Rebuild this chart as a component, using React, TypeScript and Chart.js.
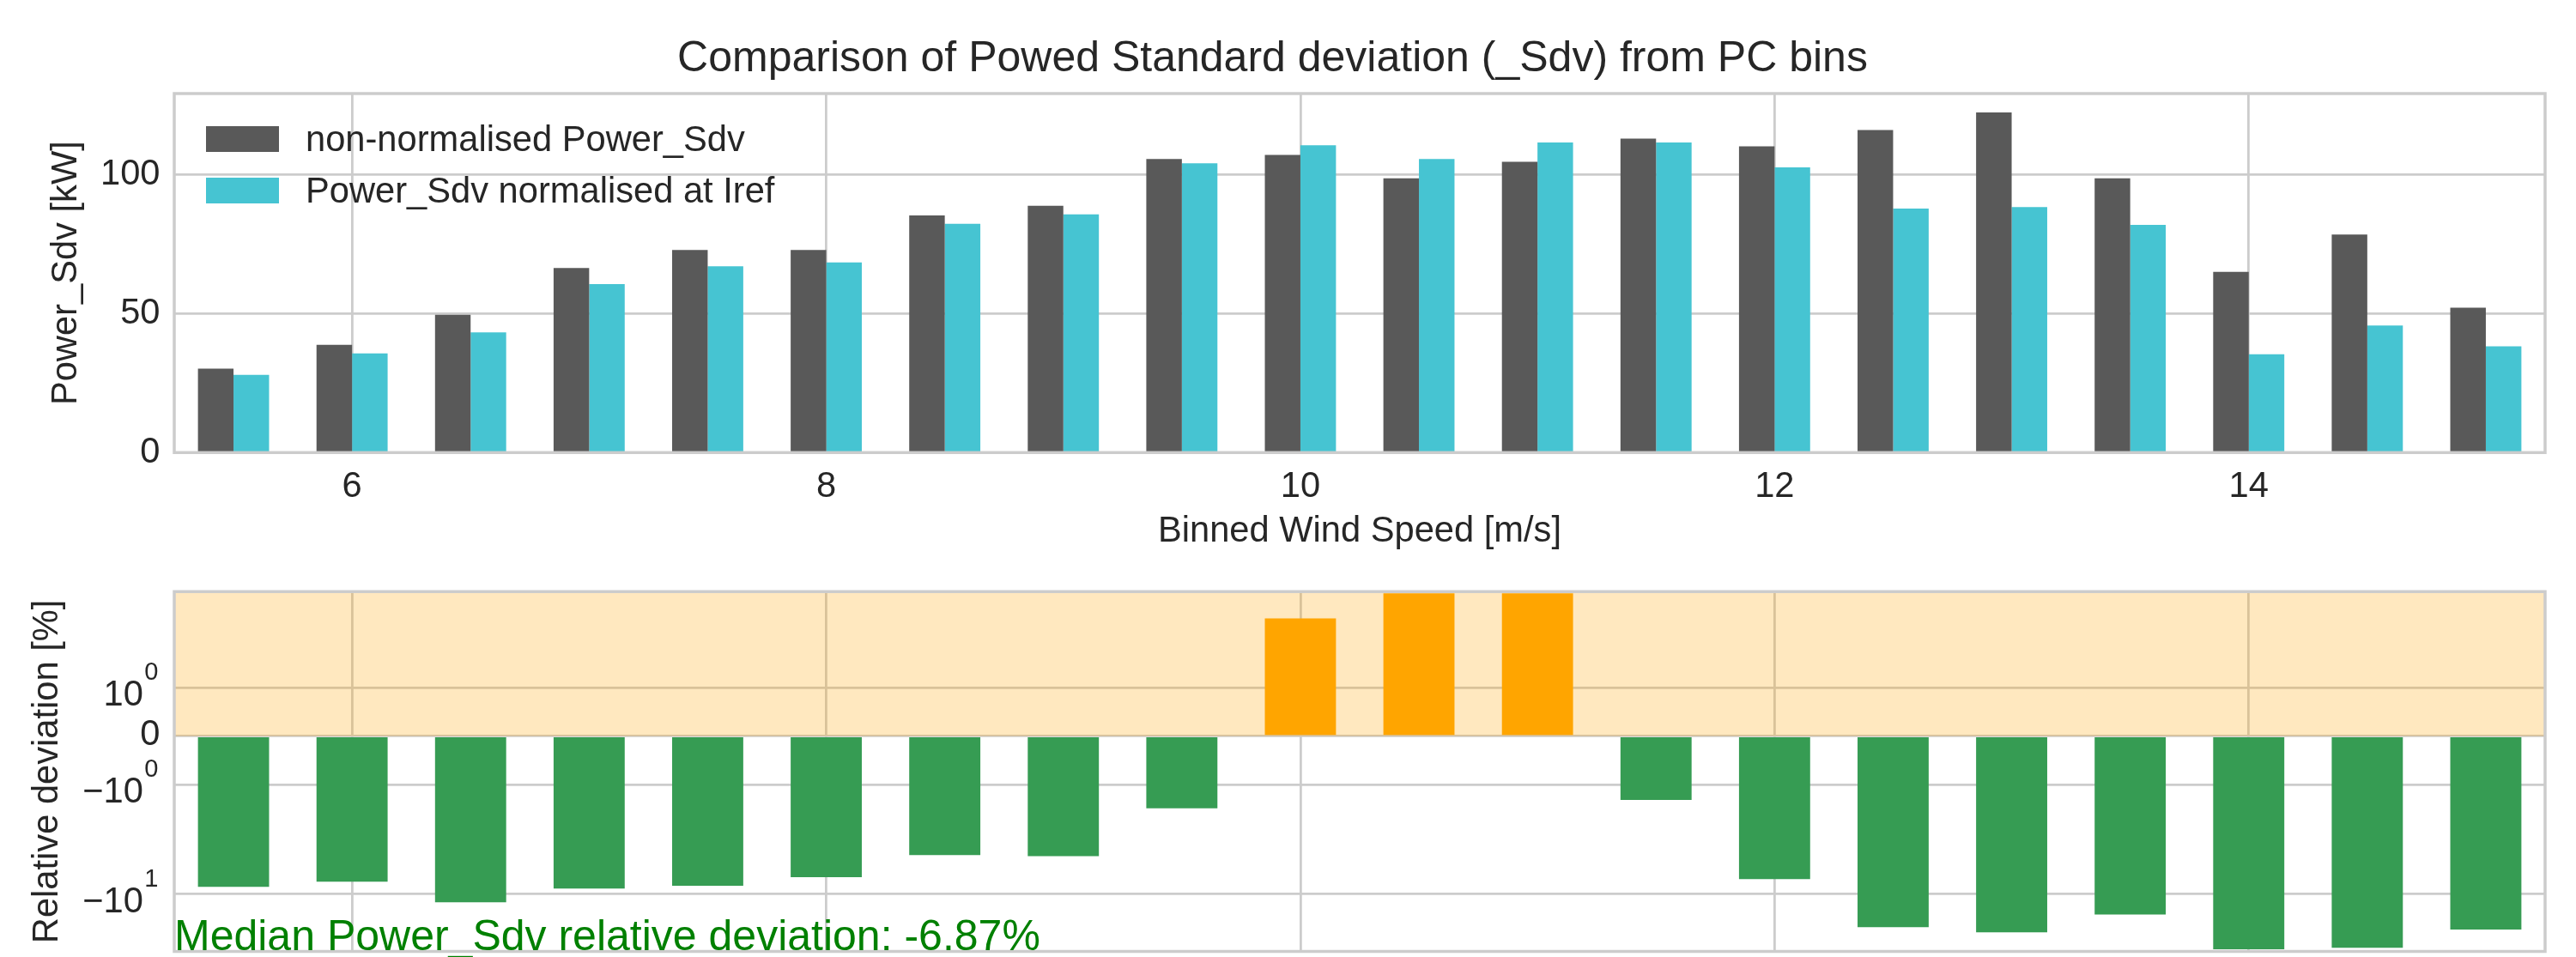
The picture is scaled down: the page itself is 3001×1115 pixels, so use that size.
import React, { useEffect, useRef } from 'react';
import { Chart, registerables, LinearScale } from 'chart.js';

// ---------------- data ----------------
const windSpeedBins = [5.5, 6.0, 6.5, 7.0, 7.5, 8.0, 8.5, 9.0, 9.5, 10.0, 10.5, 11.0, 11.5, 12.0, 12.5, 13.0, 13.5, 14.0, 14.5, 15.0];
const powerSdvRaw = [30.2, 38.8, 49.6, 66.5, 73.0, 73.0, 85.4, 88.9, 105.7, 107.2, 98.8, 104.7, 113.1, 110.3, 116.2, 122.5, 98.8, 65.1, 78.5, 52.2];
const powerSdvNorm = [28.0, 35.7, 43.3, 60.7, 67.1, 68.5, 82.4, 85.8, 104.2, 110.7, 105.7, 111.7, 111.7, 102.7, 87.9, 88.4, 82.0, 35.4, 45.8, 38.3];
const relDeviation = [-8.6, -7.7, -11.9, -8.9, -8.4, -7.0, -4.4, -4.5, -1.64, 4.3, 7.3, 7.3, -1.38, -7.3, -20.1, -22.4, -15.4, -32.0, -31.0, -21.1];
const xTickValues = [6, 8, 10, 12, 14];
const powerTickValues = [0, 50, 100];
const devTickValues = [-10, -1, 0, 1];
const seriesLabels = ['non-normalised Power_Sdv', 'Power_Sdv normalised at Iref'];
const titleText = 'Comparison of Powed Standard deviation (_Sdv) from PC bins';
const xTitle = 'Binned Wind Speed [m/s]';
const yTopTitle = 'Power_Sdv [kW]';
const yBottomTitle = 'Relative deviation [%]';
const medianText = 'Median Power_Sdv relative deviation: -6.87%';

// ---------------- style ----------------
const FONT = "'Liberation Sans', Arial, Helvetica, sans-serif";
const TEXT = '#262626';
const GRID = '#cccccc';
const DARK = '#595959';
const CYAN = '#46c4d2';
const GREEN = '#369c53';
const ORANGE = '#ffa500';
const BASE = 41.67;
const SUP = 29;
const W = 3001;
const H1 = 650;
const H2 = 465;

// ---------------- symlog scale ----------------
const LINTHRESH = 1;
const LINSCALE = 0.4;
const LIN_ADJ = LINSCALE / (1 - 1 / 10);
function symT(v: number) {
  const a = Math.abs(v);
  if (a <= LINTHRESH) return v * LIN_ADJ;
  return Math.sign(v) * LINTHRESH * (LIN_ADJ + Math.log10(a / LINTHRESH));
}
function symInv(t: number) {
  const a = Math.abs(t);
  if (a <= LINTHRESH * LIN_ADJ) return t / LIN_ADJ;
  return Math.sign(t) * LINTHRESH * Math.pow(10, a / LINTHRESH - LIN_ADJ);
}

class SymlogScale extends (LinearScale as any) {
  static id = 'symlog';
  buildTicks() {
    return devTickValues.map((v) => ({ value: v }));
  }
  getPixelForValue(value: any) {
    if (value === null || value === undefined || isNaN(value)) return NaN;
    const t0 = symT(this.min);
    const t1 = symT(this.max);
    return this.getPixelForDecimal((symT(value) - t0) / (t1 - t0));
  }
  getValueForPixel(pixel: number) {
    const t0 = symT(this.min);
    const t1 = symT(this.max);
    return symInv(t0 + this.getDecimalForPixel(pixel) * (t1 - t0));
  }
}

Chart.register(...registerables, SymlogScale as any);

// ---------------- plugins ----------------
const framePlugin = {
  id: 'frame',
  afterDatasetsDraw(chart: any) {
    const { ctx, chartArea: a } = chart;
    ctx.save();
    ctx.strokeStyle = GRID;
    ctx.lineWidth = 3.47;
    ctx.strokeRect(a.left, a.top, a.right - a.left, a.bottom - a.top);
    ctx.restore();
  },
};

const legendPlugin = {
  id: 'insideLegend',
  afterDatasetsDraw(chart: any) {
    const { ctx, chartArea: a } = chart;
    ctx.save();
    ctx.font = `${BASE}px ${FONT}`;
    ctx.textAlign = 'left';
    ctx.textBaseline = 'alphabetic';
    chart.data.datasets.forEach((ds: any, i: number) => {
      const bx = a.left + 37;
      const by = a.top + 38 + i * 60;
      ctx.fillStyle = ds.backgroundColor;
      ctx.fillRect(bx, by, 85, 30);
      ctx.fillStyle = TEXT;
      ctx.fillText(ds.label, bx + 116, by + 29);
    });
    ctx.restore();
  },
};

const spanPlugin = {
  id: 'positiveSpan',
  beforeDatasetsDraw(chart: any) {
    const { ctx, chartArea: a } = chart;
    const y0 = chart.scales.y.getPixelForValue(0);
    ctx.save();
    ctx.fillStyle = 'rgba(255,165,0,0.25)';
    ctx.fillRect(a.left, a.top, a.right - a.left, y0 - a.top);
    ctx.restore();
  },
};

const medianPlugin = {
  id: 'medianText',
  afterDatasetsDraw(chart: any) {
    const { ctx, chartArea: a } = chart;
    ctx.save();
    ctx.font = `50px ${FONT}`;
    ctx.fillStyle = '#008000';
    ctx.textAlign = 'left';
    ctx.textBaseline = 'alphabetic';
    ctx.fillText(medianText, a.left, a.bottom - 1.5);
    ctx.restore();
  },
};

const symlogLabelPlugin = {
  id: 'symlogLabels',
  afterDraw(chart: any) {
    const { ctx, chartArea: a } = chart;
    const ys = chart.scales.y;
    ctx.save();
    ctx.fillStyle = TEXT;
    ctx.textAlign = 'right';
    ctx.textBaseline = 'alphabetic';
    devTickValues.forEach((v) => {
      const py = ys.getPixelForValue(v);
      if (v === 0) {
        ctx.font = `${BASE}px ${FONT}`;
        ctx.fillText('0', a.left - 16.5, py + 10.3);
        return;
      }
      const exp = String(Math.round(Math.log10(Math.abs(v))));
      const base = v < 0 ? '\u221210' : '10';
      const bl = py + 21;
      const supRight = a.left - 18.5;
      ctx.font = `${SUP}px ${FONT}`;
      const w = ctx.measureText(exp).width;
      ctx.fillText(exp, supRight, bl - 30);
      ctx.font = `${BASE}px ${FONT}`;
      ctx.fillText(base, supRight - w - 1.5, bl);
    });
    ctx.restore();
  },
};

// ---------------- configs ----------------
const gridOpts = { color: GRID, lineWidth: 2.78, drawTicks: false, offset: false };

function topConfig(): any {
  return {
    type: 'bar',
    data: {
      datasets: [
        {
          label: seriesLabels[0],
          data: windSpeedBins.map((x, i) => ({ x, y: powerSdvRaw[i] })),
          backgroundColor: DARK,
          borderWidth: 0,
          categoryPercentage: 0.6,
          barPercentage: 1.0,
        },
        {
          label: seriesLabels[1],
          data: windSpeedBins.map((x, i) => ({ x, y: powerSdvNorm[i] })),
          backgroundColor: CYAN,
          borderWidth: 0,
          categoryPercentage: 0.6,
          barPercentage: 1.0,
        },
      ],
    },
    options: {
      responsive: false,
      animation: false,
      devicePixelRatio: 1,
      layout: { padding: { left: 0, right: 36, top: 0, bottom: 0 } },
      plugins: {
        legend: { display: false },
        tooltip: { enabled: false },
        title: {
          display: true,
          text: titleText,
          color: TEXT,
          font: { family: FONT, size: 50, weight: 'normal', lineHeight: 1.2 },
          padding: { top: 39, bottom: 10 },
        },
      },
      scales: {
        x: {
          type: 'linear',
          min: 5.25,
          max: 15.25,
          offset: false,
          grid: gridOpts,
          border: { display: false },
          afterBuildTicks: (s: any) => {
            s.ticks = xTickValues.map((v) => ({ value: v }));
          },
          afterFit: (s: any) => {
            s.height = H1 - 527.3;
          },
          ticks: {
            color: TEXT,
            font: { family: FONT, size: BASE },
            padding: 15,
            maxRotation: 0,
            autoSkip: false,
          },
          title: {
            display: true,
            text: xTitle,
            color: TEXT,
            font: { family: FONT, size: BASE, lineHeight: 1.2 },
            padding: { top: 0, bottom: 5 },
          },
        },
        y: {
          type: 'linear',
          min: 0,
          max: 129.3,
          grid: gridOpts,
          border: { display: false },
          afterBuildTicks: (s: any) => {
            s.ticks = powerTickValues.map((v) => ({ value: v }));
          },
          afterFit: (s: any) => {
            s.width = 203;
          },
          ticks: {
            color: TEXT,
            font: { family: FONT, size: BASE },
            padding: 16.5,
          },
          title: {
            display: true,
            text: yTopTitle,
            color: TEXT,
            font: { family: FONT, size: BASE, lineHeight: 1.2 },
            padding: { top: 53, bottom: 0 },
          },
        },
      },
    },
    plugins: [framePlugin, legendPlugin],
  };
}

function bottomConfig(): any {
  return {
    type: 'bar',
    data: {
      datasets: [
        {
          label: 'Relative deviation',
          data: windSpeedBins.map((x, i) => ({ x, y: relDeviation[i] })),
          backgroundColor: (c: any) => {
            const v = c.parsed ? c.parsed.y : c.raw ? c.raw.y : -1;
            return v >= 0 ? ORANGE : GREEN;
          },
          borderWidth: 0,
          categoryPercentage: 0.6,
          barPercentage: 1.0,
        },
      ],
    },
    options: {
      responsive: false,
      animation: false,
      devicePixelRatio: 1,
      layout: { padding: { left: 0, right: 36, top: 39.3, bottom: 0 } },
      plugins: {
        legend: { display: false },
        tooltip: { enabled: false },
        title: { display: false },
      },
      scales: {
        x: {
          type: 'linear',
          min: 5.25,
          max: 15.25,
          offset: false,
          grid: gridOpts,
          border: { display: false },
          afterBuildTicks: (s: any) => {
            s.ticks = xTickValues.map((v) => ({ value: v }));
          },
          afterFit: (s: any) => {
            s.height = H2 - 458.5;
          },
          ticks: { display: false },
        },
        y: {
          type: 'symlog',
          min: -33.5,
          max: 7.55,
          grid: gridOpts,
          border: { display: false },
          afterFit: (s: any) => {
            s.width = 203;
          },
          ticks: { display: false },
          title: {
            display: true,
            text: yBottomTitle,
            color: TEXT,
            font: { family: FONT, size: BASE, lineHeight: 1.2 },
            padding: { top: 31, bottom: 0 },
          },
        },
      },
    },
    plugins: [spanPlugin, framePlugin, medianPlugin, symlogLabelPlugin],
  };
}

export default function App() {
  const topRef = useRef<HTMLCanvasElement>(null);
  const botRef = useRef<HTMLCanvasElement>(null);
  useEffect(() => {
    document.body.style.margin = '0';
    document.body.style.overflow = 'hidden';
    const top = new Chart(topRef.current as HTMLCanvasElement, topConfig());
    const bot = new Chart(botRef.current as HTMLCanvasElement, bottomConfig());
    return () => {
      top.destroy();
      bot.destroy();
    };
  }, []);
  return (
    <div style={{ position: 'absolute', left: 0, top: 0, width: W, height: H1 + H2, background: '#ffffff', overflow: 'hidden' }}>
      <canvas ref={topRef} width={W} height={H1} style={{ position: 'absolute', left: 0, top: 0, width: W, height: H1 }} />
      <canvas ref={botRef} width={W} height={H2} style={{ position: 'absolute', left: 0, top: H1, width: W, height: H2 }} />
    </div>
  );
}
